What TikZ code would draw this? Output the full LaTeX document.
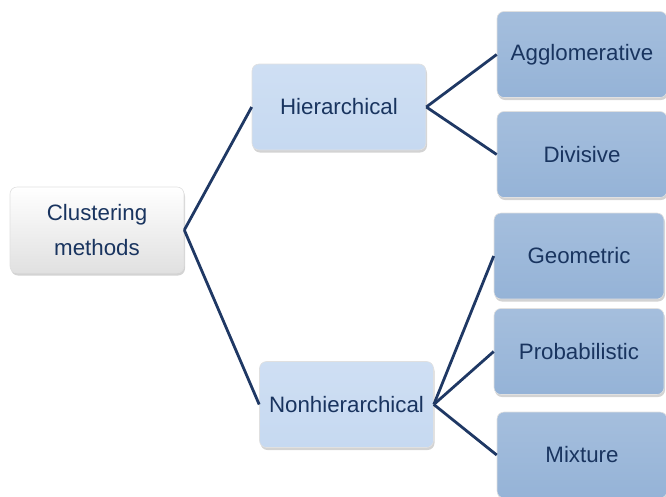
\documentclass[tikz,border=0pt]{standalone}
\usepackage{fontspec}
\setmainfont{Liberation Sans}
\usetikzlibrary{shadows}
\definecolor{NavyLine}{RGB}{31,56,100}
\definecolor{NavyText}{RGB}{25,52,95}
\definecolor{PaleBlue}{RGB}{198,217,241}
\definecolor{MidBlue}{RGB}{149,179,215}
\tikzset{
  box/.style={rounded corners=7pt,minimum width=174pt,minimum height=86pt,
    align=center,text=NavyText,font=\fontsize{22.3}{35}\selectfont,inner sep=0pt,
    draw=black!12,line width=0.6pt,
    drop shadow={shadow xshift=1pt,shadow yshift=-2.5pt,opacity=0.35}},
  rootbox/.style={box,top color=white,bottom color=black!12},
  midbox/.style={box,top color=PaleBlue!85!white,bottom color=PaleBlue},
  leafbox/.style={box,minimum width=170pt,top color=MidBlue!85!white,bottom color=MidBlue},
  link/.style={NavyLine,line width=2.8pt}
}
\begin{document}
\begin{tikzpicture}[x=1pt,y=-1pt]
  \useasboundingbox (0,0) rectangle (666,496);
  % root and first level
  \node[rootbox] (root) at (97,230) {Clustering\\methods};
  \node[midbox] (hier) at (339,107) {Hierarchical};
  \node[midbox] (nonhier) at (346.5,404.5) {Nonhierarchical};
  % leaves
  \node[leafbox] (agglo) at (582,54.5) {Agglomerative};
  \node[leafbox] (divis) at (582,154.5) {Divisive};
  \node[leafbox] (geom) at (579,256) {Geometric};
  \node[leafbox] (prob) at (579,351.5) {Probabilistic};
  \node[leafbox] (mix) at (582,455) {Mixture};
  % connectors
  \draw[link] (root.east) -- (hier.west);
  \draw[link] (root.east) -- (nonhier.west);
  \draw[link] (hier.east) -- (agglo.west);
  \draw[link] (hier.east) -- (divis.west);
  \draw[link] (nonhier.east) -- (geom.west);
  \draw[link] (nonhier.east) -- (prob.west);
  \draw[link] (nonhier.east) -- (mix.west);
\end{tikzpicture}
\end{document}
